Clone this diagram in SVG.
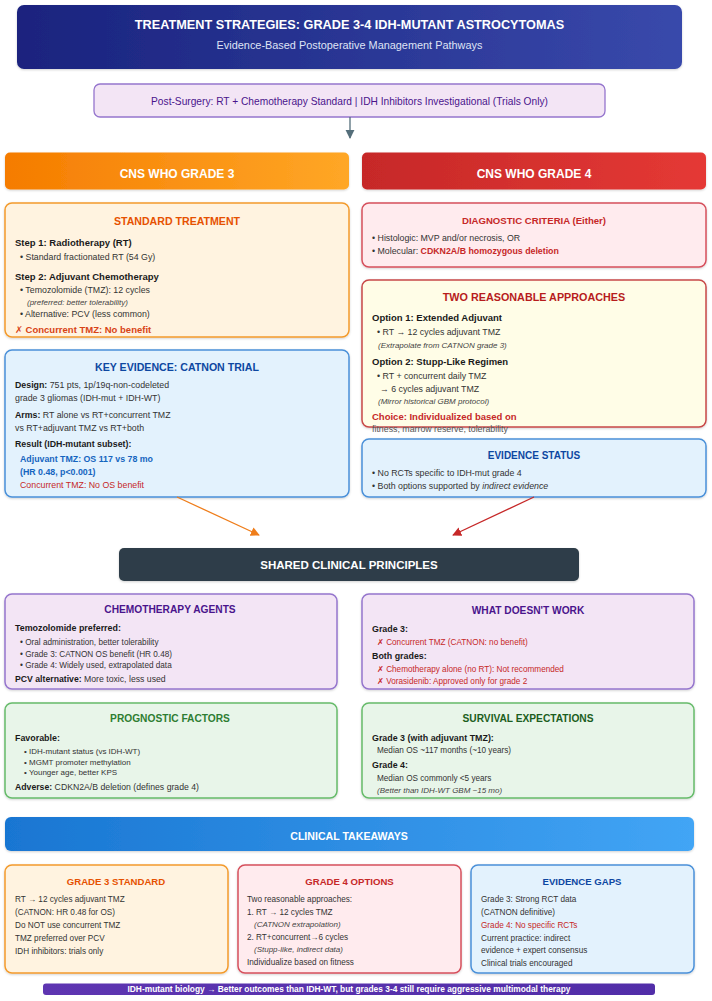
<svg xmlns="http://www.w3.org/2000/svg" width="712" height="1001" viewBox="0 0 712 1001">
<style>
text{font-family:"Liberation Sans",Arial,"DejaVu Sans",sans-serif;fill:#212121}
.c{text-anchor:middle}
.w{fill:#fff;font-weight:bold}
.ttl{font-weight:bold;font-size:10.6px;text-anchor:middle}
.b{font-size:8.8px;fill:#333}
.s{font-size:8.2px;fill:#333}
.h{font-size:9.5px;font-weight:bold;fill:#1a1a1a}
.hs{font-size:8.9px;font-weight:bold;fill:#1a1a1a}
.i{font-size:8px;font-style:italic;fill:#444}
.bold{font-weight:bold}
.red{fill:#c62828}
.box{stroke-width:1.5}
.org{fill:#fff3e0;stroke:#f39a2c}
.blu{fill:#e3f2fd;stroke:#4a90d9}
.pnk{fill:#ffebee;stroke:#d6505c}
.yel{fill:#fffde7;stroke:#c84848}
.pur{fill:#f3e5f5;stroke:#9575cd}
.grn{fill:#e8f5e9;stroke:#66bb6a}
</style>
<defs>
<linearGradient id="gHead" x1="0" y1="0" x2="1" y2="0"><stop offset="0" stop-color="#1a237e"/><stop offset="1" stop-color="#3949ab"/></linearGradient>
<linearGradient id="gG3" x1="0" y1="0" x2="1" y2="0"><stop offset="0" stop-color="#f57c00"/><stop offset="1" stop-color="#ffa726"/></linearGradient>
<linearGradient id="gG4" x1="0" y1="0" x2="1" y2="0"><stop offset="0" stop-color="#c62828"/><stop offset="1" stop-color="#e53935"/></linearGradient>
<linearGradient id="gTk" x1="0" y1="0" x2="1" y2="0"><stop offset="0" stop-color="#1976d2"/><stop offset="1" stop-color="#42a5f5"/></linearGradient>
<linearGradient id="gBar" x1="0" y1="0" x2="1" y2="0"><stop offset="0" stop-color="#5e35b1"/><stop offset="1" stop-color="#512da8"/></linearGradient>
<filter id="sh" x="-5%" y="-10%" width="110%" height="130%"><feDropShadow dx="0" dy="1" stdDeviation="1.2" flood-color="#000" flood-opacity="0.18"/></filter>
<marker id="mGray" viewBox="0 0 10 10" refX="9" refY="5" markerWidth="7" markerHeight="7" orient="auto"><path d="M0,0 L10,5 L0,10 z" fill="#546e7a"/></marker>
<marker id="mOrg" viewBox="0 0 10 10" refX="9" refY="5" markerWidth="7" markerHeight="7" orient="auto"><path d="M0,0 L10,5 L0,10 z" fill="#ef7d1a"/></marker>
<marker id="mRed" viewBox="0 0 10 10" refX="9" refY="5" markerWidth="7" markerHeight="7" orient="auto"><path d="M0,0 L10,5 L0,10 z" fill="#c62828"/></marker>
</defs>
<rect width="712" height="1001" fill="#fff"/>

<g id="header">
<rect x="17" y="5" width="665" height="64" rx="7" fill="url(#gHead)" filter="url(#sh)"/>
<text x="349.5" y="28.5" class="c w" font-size="12.7">TREATMENT STRATEGIES: GRADE 3-4 IDH-MUTANT ASTROCYTOMAS</text>
<text x="349.5" y="49" class="c" font-size="10.9" style="fill:#dfe3f5">Evidence-Based Postoperative Management Pathways</text>
</g>

<g id="post-surgery">
<rect x="94" y="84" width="511" height="33" rx="6" fill="#f3e5f5" stroke="#9575cd" stroke-width="1.3"/>
<text x="349.5" y="104.5" class="c" font-size="10.2" style="fill:#4a148c">Post-Surgery: RT + Chemotherapy Standard | IDH Inhibitors Investigational (Trials Only)</text>
</g>

<g id="grade3-header">
<rect x="5" y="152.5" width="344" height="37" rx="5" fill="url(#gG3)" filter="url(#sh)"/>
<text x="177" y="177.5" class="c w" font-size="12">CNS WHO GRADE 3</text>
</g>
<g id="grade4-header">
<rect x="362" y="152.5" width="344" height="37" rx="5" fill="url(#gG4)" filter="url(#sh)"/>
<text x="534" y="177.5" class="c w" font-size="12">CNS WHO GRADE 4</text>
</g>

<g id="standard-treatment">
<rect x="5" y="203" width="344" height="134" rx="7" class="box org" filter="url(#sh)"/>
<text x="177" y="225" class="ttl" style="fill:#e65100">STANDARD TREATMENT</text>
<text x="15" y="245.5" class="h">Step 1: Radiotherapy (RT)</text>
<text x="20" y="260" class="b">• Standard fractionated RT (54 Gy)</text>
<text x="15" y="279.5" class="h">Step 2: Adjuvant Chemotherapy</text>
<text x="20" y="293" class="b">• Temozolomide (TMZ): 12 cycles</text>
<text x="27" y="305" class="i">(preferred: better tolerability)</text>
<text x="20" y="316.5" class="b">• Alternative: PCV (less common)</text>
<text x="15" y="332.5" class="h" style="fill:#d84315">✗ Concurrent TMZ: No benefit</text>
</g>

<g id="catnon">
<rect x="5" y="350" width="344" height="147" rx="7" class="box blu" filter="url(#sh)"/>
<text x="177" y="371" class="ttl" style="fill:#0d47a1">KEY EVIDENCE: CATNON TRIAL</text>
<text x="15" y="388" class="b"><tspan class="bold" style="fill:#1a1a1a">Design:</tspan> 751 pts, 1p/19q-non-codeleted</text>
<text x="15" y="401" class="b">grade 3 gliomas (IDH-mut + IDH-WT)</text>
<text x="15" y="418" class="b"><tspan class="bold" style="fill:#1a1a1a">Arms:</tspan> RT alone vs RT+concurrent TMZ</text>
<text x="15" y="431" class="b">vs RT+adjuvant TMZ vs RT+both</text>
<text x="15" y="447" class="b bold" style="fill:#1a1a1a">Result (IDH-mutant subset):</text>
<text x="20" y="461.5" class="b bold" style="fill:#1565c0">Adjuvant TMZ: OS 117 vs 78 mo</text>
<text x="20" y="474.5" class="b bold" style="fill:#1565c0">(HR 0.48, p&lt;0.001)</text>
<text x="20" y="487.5" class="b" style="fill:#c62828">Concurrent TMZ: No OS benefit</text>
</g>

<g id="diagnostic-criteria">
<rect x="362" y="203" width="344" height="64" rx="7" class="box pnk" filter="url(#sh)"/>
<text x="534" y="223.5" class="ttl" style="fill:#c62828;font-size:9.6px">DIAGNOSTIC CRITERIA (Either)</text>
<text x="372" y="241" class="b">• Histologic: MVP and/or necrosis, OR</text>
<text x="372" y="253.5" class="b">• Molecular: <tspan class="bold red">CDKN2A/B homozygous deletion</tspan></text>
</g>

<g id="two-approaches">
<rect x="362" y="280" width="344" height="147" rx="7" class="box yel" filter="url(#sh)"/>
<text x="534" y="301" class="ttl" style="fill:#b71c1c;font-size:10.8px">TWO REASONABLE APPROACHES</text>
<text x="372" y="320.5" class="h">Option 1: Extended Adjuvant</text>
<text x="377" y="335" class="b">• RT → 12 cycles adjuvant TMZ</text>
<text x="378" y="347.5" class="i">(Extrapolate from CATNON grade 3)</text>
<text x="372" y="364.5" class="h">Option 2: Stupp-Like Regimen</text>
<text x="377" y="379" class="b">• RT + concurrent daily TMZ</text>
<text x="380" y="391.5" class="b">→ 6 cycles adjuvant TMZ</text>
<text x="378" y="404" class="i">(Mirror historical GBM protocol)</text>
<text x="372" y="419.5" class="h" style="fill:#c62828">Choice: Individualized based on</text>
<text x="372" y="431.5" class="b" style="fill:#555">fitness, marrow reserve, tolerability</text>
</g>

<g id="evidence-status">
<rect x="362" y="439" width="344" height="58" rx="7" class="box blu" filter="url(#sh)"/>
<text x="534" y="458.5" class="ttl" style="fill:#0d47a1;font-size:10px">EVIDENCE STATUS</text>
<text x="372" y="476" class="b">• No RCTs specific to IDH-mut grade 4</text>
<text x="372" y="488.5" class="b">• Both options supported by <tspan font-style="italic">indirect evidence</tspan></text>
</g>

<g id="connectors" fill="none" stroke-width="1.3">
<line x1="350" y1="117" x2="350" y2="138" stroke="#546e7a" marker-end="url(#mGray)"/>
<line x1="177" y1="497" x2="259" y2="535" stroke="#ef7d1a" marker-end="url(#mOrg)"/>
<line x1="534" y1="497" x2="453" y2="535" stroke="#c62828" marker-end="url(#mRed)"/>
</g>

<g id="shared-principles">
<rect x="119" y="548" width="460" height="33" rx="5" fill="#2f3e48" filter="url(#sh)"/>
<text x="349" y="569" class="c w" font-size="11.5">SHARED CLINICAL PRINCIPLES</text>
</g>

<g id="chemotherapy-agents">
<rect x="5" y="594" width="332" height="95" rx="7" class="box pur" filter="url(#sh)"/>
<text x="170" y="613" class="ttl" style="fill:#4a148c;font-size:10.2px">CHEMOTHERAPY AGENTS</text>
<text x="15" y="630.5" class="hs">Temozolomide preferred:</text>
<text x="20" y="645" class="s">• Oral administration, better tolerability</text>
<text x="20" y="656.5" class="s">• Grade 3: CATNON OS benefit (HR 0.48)</text>
<text x="20" y="667.5" class="s">• Grade 4: Widely used, extrapolated data</text>
<text x="15" y="681.5" class="s" style="font-size:8.7px"><tspan class="bold" style="fill:#1a1a1a">PCV alternative:</tspan> More toxic, less used</text>
</g>

<g id="what-doesnt-work">
<rect x="362" y="594" width="332" height="95" rx="7" class="box pur" filter="url(#sh)"/>
<text x="528" y="613.5" class="ttl" style="fill:#4a148c;font-size:10.2px">WHAT DOESN'T WORK</text>
<text x="372" y="631.5" class="hs">Grade 3:</text>
<text x="377" y="645" class="s red">✗ Concurrent TMZ (CATNON: no benefit)</text>
<text x="372" y="658.5" class="hs">Both grades:</text>
<text x="377" y="671.5" class="s red">✗ Chemotherapy alone (no RT): Not recommended</text>
<text x="377" y="684" class="s red">✗ Vorasidenib: Approved only for grade 2</text>
</g>

<g id="prognostic-factors">
<rect x="5" y="703" width="332" height="95" rx="7" class="box grn" filter="url(#sh)"/>
<text x="170" y="722" class="ttl" style="fill:#2e7d32;font-size:10.2px">PROGNOSTIC FACTORS</text>
<text x="15" y="740.5" class="hs">Favorable:</text>
<text x="24" y="754" class="s" style="font-size:8px">• IDH-mutant status (vs IDH-WT)</text>
<text x="24" y="764.5" class="s" style="font-size:8px">• MGMT promoter methylation</text>
<text x="24" y="775" class="s" style="font-size:8px">• Younger age, better KPS</text>
<text x="15" y="790" class="s" style="font-size:8.7px"><tspan class="bold" style="fill:#1a1a1a">Adverse:</tspan> CDKN2A/B deletion (defines grade 4)</text>
</g>

<g id="survival-expectations">
<rect x="362" y="703" width="332" height="95" rx="7" class="box grn" filter="url(#sh)"/>
<text x="528" y="722" class="ttl" style="fill:#1b5e20;font-size:10.2px">SURVIVAL EXPECTATIONS</text>
<text x="372" y="740.5" class="hs">Grade 3 (with adjuvant TMZ):</text>
<text x="377" y="752.5" class="s">Median OS ~117 months (~10 years)</text>
<text x="372" y="767.5" class="hs">Grade 4:</text>
<text x="377" y="781" class="s">Median OS commonly &lt;5 years</text>
<text x="377" y="793" class="i">(Better than IDH-WT GBM ~15 mo)</text>
</g>

<g id="clinical-takeaways">
<rect x="5" y="817" width="689" height="34" rx="6" fill="url(#gTk)" filter="url(#sh)"/>
<text x="349" y="840" class="c w" font-size="10.6">CLINICAL TAKEAWAYS</text>
</g>

<g id="grade3-standard">
<rect x="5" y="865" width="223" height="108" rx="7" class="box org" filter="url(#sh)"/>
<text x="116" y="885" class="ttl" style="fill:#e65100;font-size:9.6px">GRADE 3 STANDARD</text>
<text x="15" y="901.5" class="s">RT → 12 cycles adjuvant TMZ</text>
<text x="15" y="914.5" class="s">(CATNON: HR 0.48 for OS)</text>
<text x="15" y="927.5" class="s">Do NOT use concurrent TMZ</text>
<text x="15" y="940.5" class="s">TMZ preferred over PCV</text>
<text x="15" y="954" class="s">IDH inhibitors: trials only</text>
</g>

<g id="grade4-options">
<rect x="238" y="865" width="223" height="108" rx="7" class="box pnk" filter="url(#sh)"/>
<text x="349.5" y="885" class="ttl" style="fill:#c62828;font-size:9.6px">GRADE 4 OPTIONS</text>
<text x="247" y="901.5" class="s">Two reasonable approaches:</text>
<text x="247" y="914.5" class="s">1. RT → 12 cycles TMZ</text>
<text x="254" y="926.5" class="i">(CATNON extrapolation)</text>
<text x="247" y="939.5" class="s">2. RT+concurrent→6 cycles</text>
<text x="254" y="952" class="i">(Stupp-like, indirect data)</text>
<text x="247" y="964.5" class="s">Individualize based on fitness</text>
</g>

<g id="evidence-gaps">
<rect x="471" y="865" width="223" height="108" rx="7" class="box blu" filter="url(#sh)"/>
<text x="582" y="885" class="ttl" style="fill:#0d47a1;font-size:9.6px">EVIDENCE GAPS</text>
<text x="481" y="901.5" class="s">Grade 3: Strong RCT data</text>
<text x="481" y="914.5" class="s">(CATNON definitive)</text>
<text x="481" y="927.5" class="s red">Grade 4: No specific RCTs</text>
<text x="481" y="940.5" class="s">Current practice: indirect</text>
<text x="481" y="953" class="s">evidence + expert consensus</text>
<text x="481" y="965.5" class="s">Clinical trials encouraged</text>
</g>

<g id="bottom-banner">
<rect x="43" y="983.5" width="612" height="11.5" rx="3" fill="url(#gBar)"/>
<text x="349" y="992.3" class="c w" font-size="8.4">IDH-mutant biology → Better outcomes than IDH-WT, but grades 3-4 still require aggressive multimodal therapy</text>
</g>
</svg>
